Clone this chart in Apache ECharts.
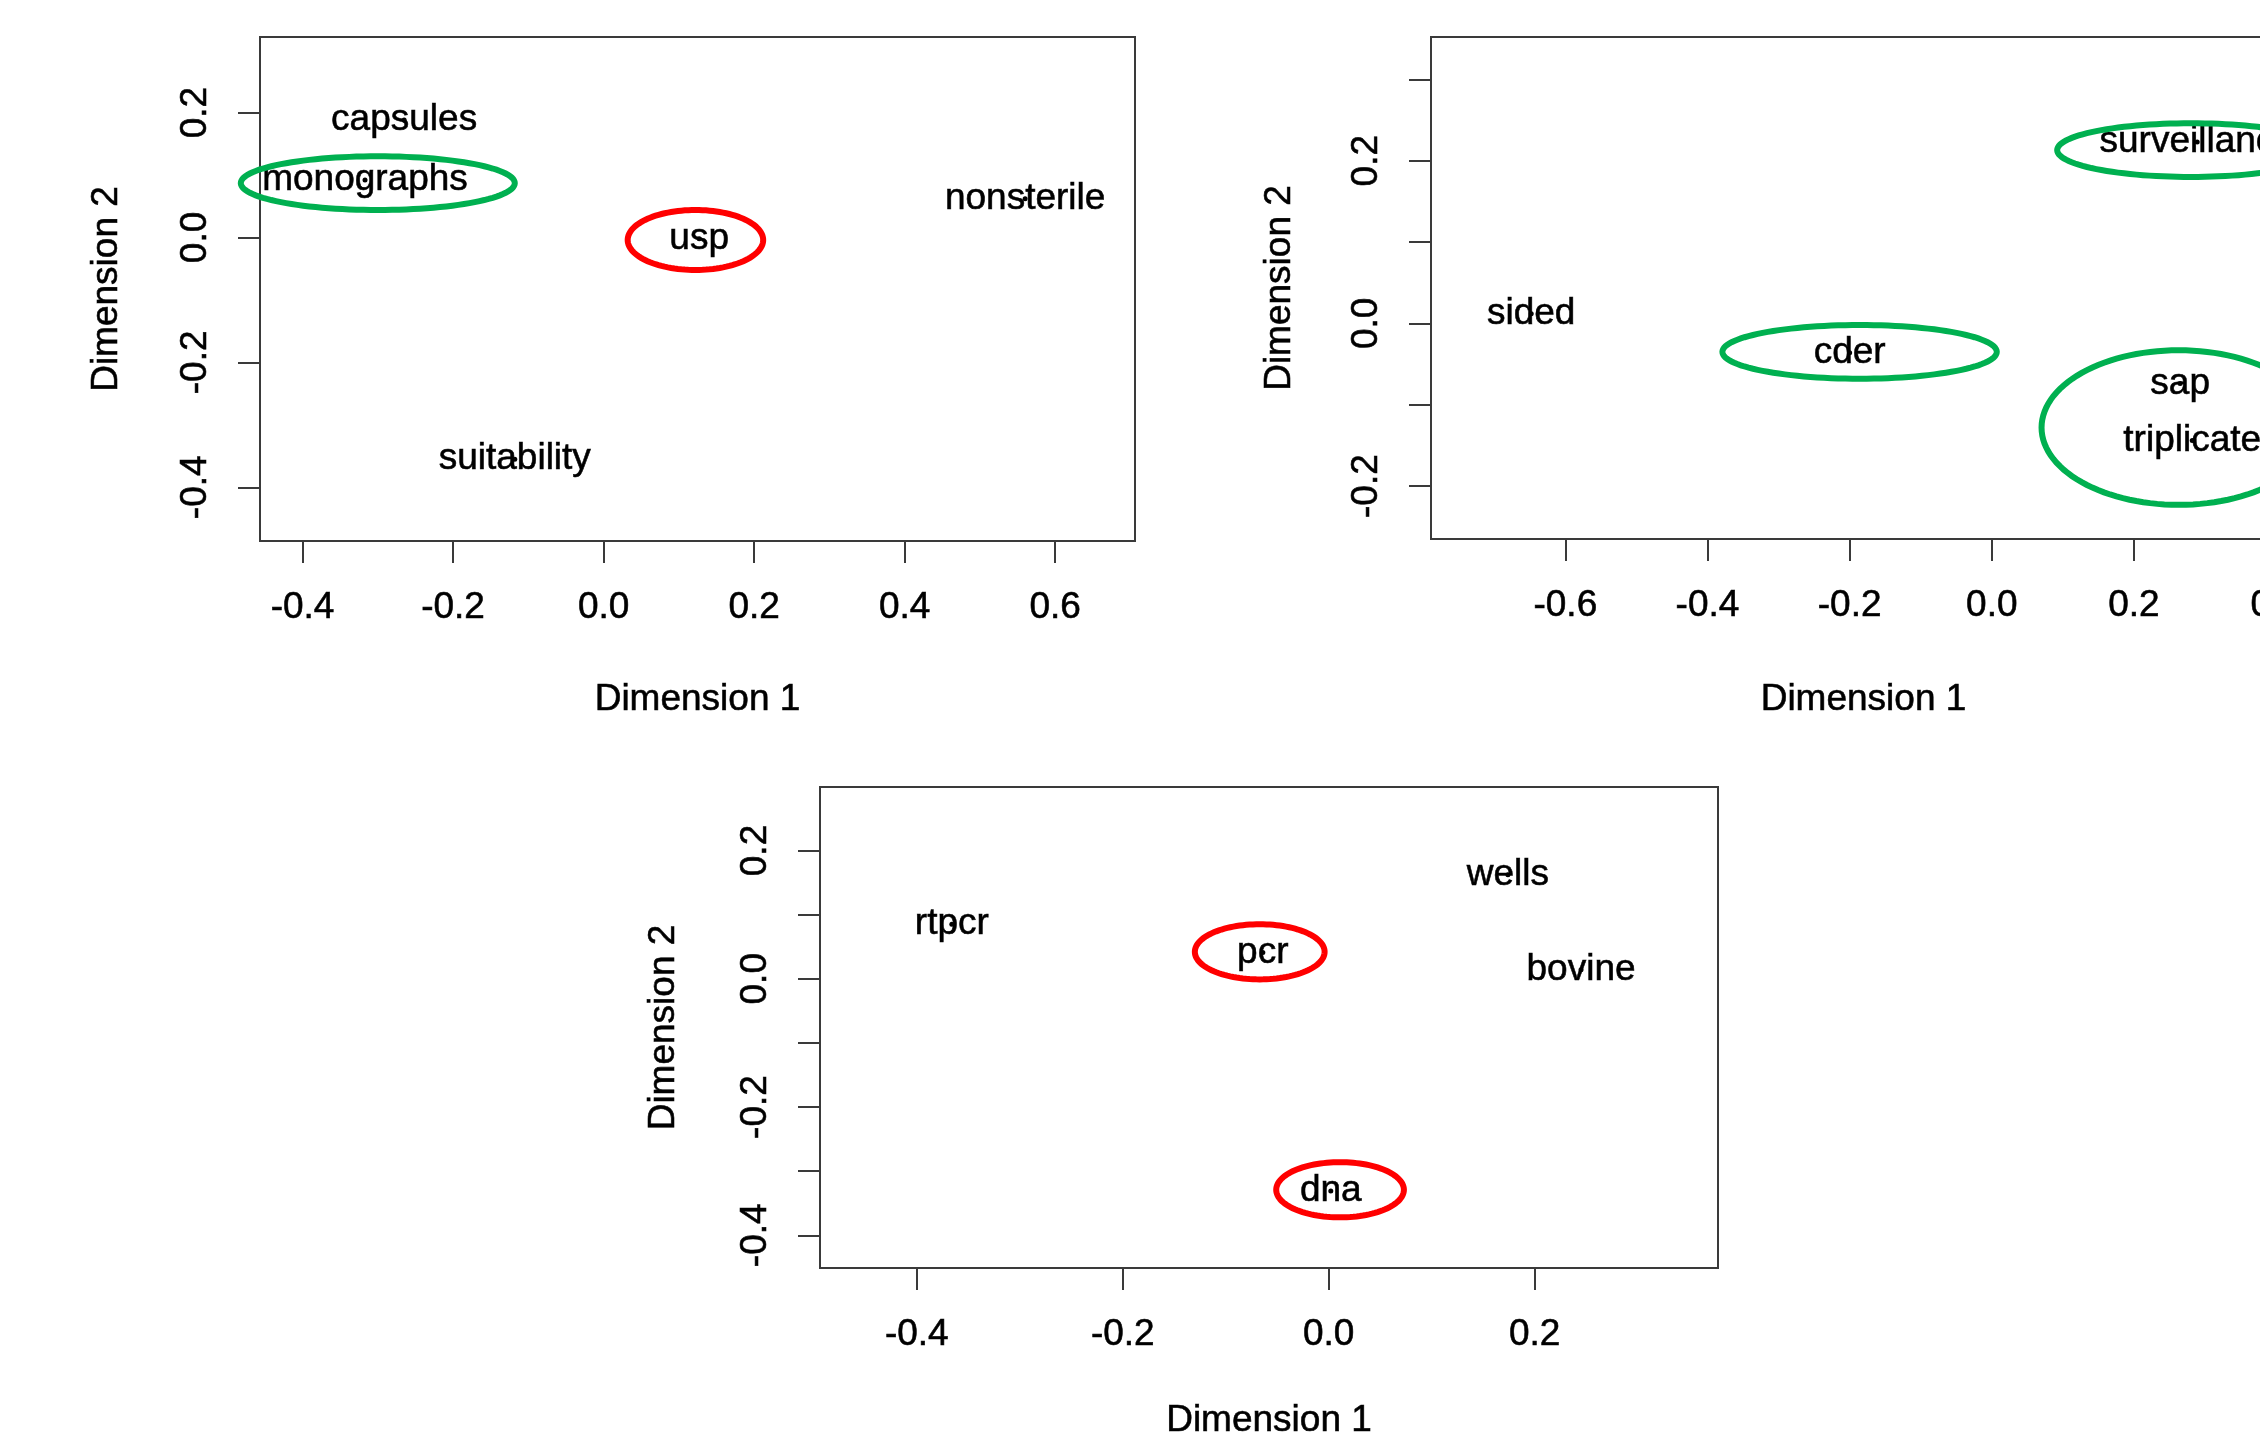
<!DOCTYPE html>
<html>
<head>
<meta charset="utf-8">
<script src="https://cdn.jsdelivr.net/npm/echarts@6/dist/echarts.min.js"></script>
<style>
html,body{margin:0;padding:0;background:#fff;overflow:hidden;}
#chart{width:2260px;height:1434px;}
</style>
</head>
<body>
<div id="chart"></div>
<script>
// ---------- Panel 1 (top left) ----------
const p1Words = ['capsules', 'monographs', 'usp', 'nonsterile', 'suitability'];
const p1X = [-0.265, -0.317, 0.127, 0.560, -0.118];
const p1Y = [0.188, 0.092, -0.002, 0.062, -0.355];
const p1XRange = [-0.4565, 0.706];
const p1YRange = [-0.486, 0.321];
const p1XTicks = [-0.4, -0.2, 0.0, 0.2, 0.4, 0.6];
const p1XLabels = [-0.4, -0.2, 0.0, 0.2, 0.4, 0.6];
const p1YTicks = [-0.4, -0.2, 0.0, 0.2];
const p1YLabels = [-0.4, -0.2, 0.0, 0.2];
const p1EllX = [-0.300, 0.122];
const p1EllY = [0.087, -0.004];
const p1EllRX = [0.182, 0.090];
const p1EllRY = [0.043, 0.048];
const p1EllColor = ['#00b050', '#ff0000'];

// ---------- Panel 2 (top right) ----------
const p2Words = ['sided', 'cder', 'surveillance', 'sap', 'triplicate'];
const p2X = [-0.648, -0.200, 0.289, 0.265, 0.282];
const p2Y = [0.012, -0.036, 0.223, -0.074, -0.144];
const p2XRange = [-0.789, 0.428];
const p2YRange = [-0.265, 0.352];
const p2XTicks = [-0.6, -0.4, -0.2, 0.0, 0.2, 0.4];
const p2XLabels = [-0.6, -0.4, -0.2, 0.0, 0.2, 0.4];
const p2YTicks = [-0.2, -0.1, 0.0, 0.1, 0.2, 0.3];
const p2YLabels = [-0.2, 0.0, 0.2];
const p2EllX = [0.280, -0.186, 0.263];
const p2EllY = [0.213, -0.035, -0.128];
const p2EllRX = [0.188, 0.193, 0.193];
const p2EllRY = [0.033, 0.033, 0.095];
const p2EllColor = ['#00b050', '#00b050', '#00b050'];

// ---------- Panel 3 (bottom) ----------
const p3Words = ['rtpcr', 'pcr', 'wells', 'bovine', 'dna'];
const p3X = [-0.366, -0.064, 0.174, 0.245, 0.002];
const p3Y = [0.085, 0.041, 0.162, 0.014, -0.331];
const p3XRange = [-0.494, 0.378];
const p3YRange = [-0.451, 0.299];
const p3XTicks = [-0.4, -0.2, 0.0, 0.2];
const p3XLabels = [-0.4, -0.2, 0.0, 0.2];
const p3YTicks = [-0.4, -0.3, -0.2, -0.1, 0.0, 0.1, 0.2];
const p3YLabels = [-0.4, -0.2, 0.0, 0.2];
const p3EllX = [-0.067, 0.011];
const p3EllY = [0.042, -0.329];
const p3EllRX = [0.063, 0.062];
const p3EllRY = [0.043, 0.043];
const p3EllColor = ['#ff0000', '#ff0000'];

const FONT = '"Liberation Sans", Arial, sans-serif';
const TXT = '#000';
const AX = '#3a3a3a';
const FS = 37;
const TB = { textBorderColor: '#111', textBorderWidth: 0.6 };

const fmt = v => (Math.abs(v) < 1e-9 ? 0 : v).toFixed(1);

function makeX(gi, range, ticks, labels, nameGap) {
  return {
    type: 'value', gridIndex: gi, min: range[0], max: range[1],
    axisLine: { show: false, onZero: false },
    splitLine: { show: false },
    axisTick: { show: true, inside: false, length: 22, customValues: ticks, lineStyle: { color: AX, width: 2 } },
    axisLabel: Object.assign({ customValues: labels, formatter: fmt, fontSize: FS, color: TXT, fontFamily: FONT, margin: 48 }, TB),
    name: 'Dimension 1', nameLocation: 'middle', nameGap: nameGap,
    nameTextStyle: Object.assign({ fontSize: FS, color: TXT, fontFamily: FONT }, TB)
  };
}
function makeY(gi, range, ticks, labels, nameGap) {
  return {
    type: 'value', gridIndex: gi, min: range[0], max: range[1],
    axisLine: { show: false, onZero: false },
    splitLine: { show: false },
    axisTick: { show: true, inside: false, length: 22, customValues: ticks, lineStyle: { color: AX, width: 2 } },
    axisLabel: Object.assign({ customValues: labels, formatter: fmt, fontSize: FS, color: TXT, fontFamily: FONT, margin: 46, rotate: 90 }, TB),
    name: 'Dimension 2', nameLocation: 'middle', nameGap: nameGap,
    nameTextStyle: Object.assign({ fontSize: FS, color: TXT, fontFamily: FONT }, TB)
  };
}
function wordSeries(gi, words, xs, ys) {
  return {
    type: 'scatter', xAxisIndex: gi, yAxisIndex: gi,
    symbol: 'circle', symbolSize: 5,
    itemStyle: { color: '#000', opacity: 1 },
    silent: true,
    data: words.map((w, i) => ({ name: w, value: [xs[i], ys[i]] })),
    label: Object.assign({ show: true, position: 'inside', formatter: p => p.name, fontSize: FS, color: TXT, fontFamily: FONT, opacity: 1 }, TB),
    z: 3
  };
}
function ellipseSeries(gi, cx, cy, rx, ry, colors) {
  return {
    type: 'custom', xAxisIndex: gi, yAxisIndex: gi, silent: true, clip: false,
    data: cx.map((v, i) => [v, cy[i], rx[i], ry[i]]),
    encode: { x: 0, y: 1 },
    renderItem: function (params, api) {
      const c = api.coord([api.value(0), api.value(1)]);
      const s = api.size([api.value(2), api.value(3)]);
      const pts = [];
      for (let k = 0; k < 120; k++) {
        const t = k / 120 * Math.PI * 2;
        pts.push([c[0] + s[0] * Math.cos(t), c[1] + s[1] * Math.sin(t)]);
      }
      return { type: 'polygon', shape: { points: pts }, style: { fill: 'none', stroke: colors[params.dataIndex], lineWidth: 6 } };
    },
    z: 4
  };
}

const gridBase = { show: true, borderColor: AX, borderWidth: 2, backgroundColor: 'transparent', containLabel: false, outerBoundsMode: 'none' };
const chart = echarts.init(document.getElementById('chart'), null, { renderer: 'canvas' });
chart.setOption({
  backgroundColor: '#ffffff',
  animation: false,
  grid: [
    Object.assign({ left: 260, top: 37, width: 875, height: 504 }, gridBase),
    Object.assign({ left: 1431, top: 37, width: 865, height: 502 }, gridBase),
    Object.assign({ left: 820, top: 787, width: 898, height: 481 }, gridBase)
  ],
  xAxis: [
    makeX(0, p1XRange, p1XTicks, p1XLabels, 140),
    makeX(1, p2XRange, p2XTicks, p2XLabels, 142),
    makeX(2, p3XRange, p3XTicks, p3XLabels, 134)
  ],
  yAxis: [
    makeY(0, p1YRange, p1YTicks, p1YLabels, 135),
    makeY(1, p2YRange, p2YTicks, p2YLabels, 133),
    makeY(2, p3YRange, p3YTicks, p3YLabels, 138)
  ],
  series: [
    wordSeries(0, p1Words, p1X, p1Y),
    wordSeries(1, p2Words, p2X, p2Y),
    wordSeries(2, p3Words, p3X, p3Y),
    ellipseSeries(0, p1EllX, p1EllY, p1EllRX, p1EllRY, p1EllColor),
    ellipseSeries(1, p2EllX, p2EllY, p2EllRX, p2EllRY, p2EllColor),
    ellipseSeries(2, p3EllX, p3EllY, p3EllRX, p3EllRY, p3EllColor)
  ]
});
</script>
</body>
</html>
